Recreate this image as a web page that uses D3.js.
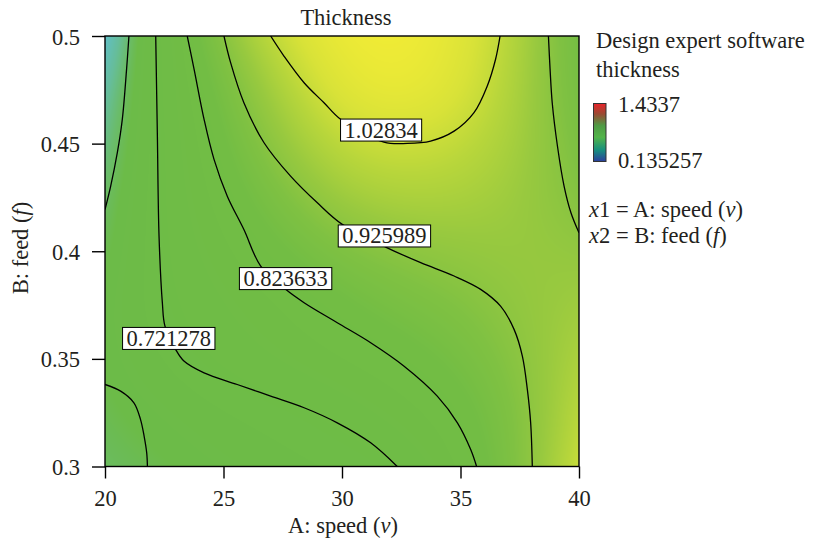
<!DOCTYPE html>
<html>
<head>
<meta charset="utf-8">
<script src="https://cdn.jsdelivr.net/npm/d3@7"></script>
<style>
  html, body { margin: 0; padding: 0; background: #fff; }
  svg text { font-family: "Liberation Serif", "Times New Roman", serif; fill: #231f20; }
</style>
</head>
<body>
<svg id="chart" width="819" height="545"></svg>
<script>
// ---------------- data ----------------
const chartTitle = "Thickness";
const xTicks = [20, 25, 30, 35, 40];
const yTicks = [0.3, 0.35, 0.4, 0.45, 0.5];
const yTickLabels = ["0.3", "0.35", "0.4", "0.45", "0.5"];
const legendMax = "1.4337";
const legendMin = "0.135257";
const contourLevels = [0.618923, 0.721278, 0.823633, 0.925989, 1.02834];

// contour lines, [speed, feed] pairs
const contour0619a = [[21.01,0.5],[20.91,0.4845],[20.73,0.4613],[20.52,0.4458],[20.24,0.4303],[20.0,0.4194]];
const contour0619b = [[20.0,0.3381],[20.66,0.3350],[21.22,0.3296],[21.50,0.3218],[21.65,0.3141],[21.76,0.3063],[21.79,0.3]];
const contour0721 = [[22.14,0.5],[22.21,0.4535],[22.28,0.4070],[22.42,0.3761],[22.53,0.3652],[22.98,0.3544],[23.33,0.3490],[24.18,0.3435],[25.58,0.3381],[26.99,0.3327],[28.40,0.3273],[29.80,0.3203],[31.21,0.3110],[32.33,0.3]];
const contour0824 = [[23.47,0.5],[23.76,0.4845],[24.18,0.4613],[24.60,0.4427],[25.16,0.4256],[25.86,0.4101],[26.57,0.3931],[27.62,0.3823],[28.40,0.3761],[29.80,0.3668],[31.21,0.3575],[32.62,0.3466],[34.02,0.3327],[34.87,0.3203],[35.43,0.3079],[35.68,0.3]];
const contour0926a = [[25.02,0.5],[25.30,0.4876],[25.86,0.4690],[26.71,0.4504],[27.83,0.4349],[28.96,0.4225],[30.01,0.4125],[31.91,0.4016],[33.32,0.3947],[34.73,0.3885],[35.85,0.3823],[36.69,0.3745],[37.26,0.3637],[37.61,0.3513],[37.82,0.3358],[37.96,0.3203],[38.03,0.3]];
const contour0926b = [[38.71,0.5],[38.78,0.4845],[38.87,0.4690],[39.09,0.4489],[39.37,0.4303],[39.66,0.4179],[40.0,0.4086]];
const contour1028 = [[26.99,0.5],[27.55,0.4907],[28.40,0.4783],[29.24,0.4690],[29.94,0.4613],[31.77,0.4507],[32.76,0.4501],[33.74,0.4512],[34.73,0.4558],[35.57,0.4644],[36.13,0.4768],[36.48,0.4892],[36.67,0.5]];

// contour labels: text and anchor in data units
const contourLabels = [
  {text: "1.02834",  x: 31.65, y: 0.4563},
  {text: "0.925989", x: 31.79, y: 0.4071},
  {text: "0.823633", x: 27.62, y: 0.3873},
  {text: "0.721278", x: 22.69, y: 0.3595}
];

// estimated thickness surface on a coarse grid (rows: feed top->bottom)
const gridX = [20, 22.5, 25, 27.5, 30, 32.5, 35, 37.5, 40];
const gridY = [0.5, 0.475, 0.45, 0.425, 0.4, 0.375, 0.35, 0.325, 0.3];
const gridValues = [
  [0.50, 0.75, 0.93, 1.03, 1.08, 1.09, 1.06, 0.99, 0.86],
  [0.55, 0.74, 0.88, 0.99, 1.06, 1.08, 1.05, 0.98, 0.87],
  [0.58, 0.73, 0.85, 0.95, 1.015, 1.03, 1.015, 0.97, 0.89],
  [0.61, 0.73, 0.82, 0.90, 0.965, 0.985, 0.98, 0.955, 0.91],
  [0.63, 0.725, 0.79, 0.85, 0.90, 0.925, 0.94, 0.95, 0.94],
  [0.65, 0.72, 0.76, 0.80, 0.845, 0.88, 0.905, 0.94, 0.96],
  [0.645, 0.70, 0.74, 0.77, 0.80, 0.83, 0.87, 0.925, 0.98],
  [0.63, 0.66, 0.69, 0.71, 0.74, 0.78, 0.83, 0.91, 1.0],
  [0.615, 0.635, 0.66, 0.68, 0.70, 0.725, 0.80, 0.91, 1.02]
];

// colour map for the fill
const colorStops  = [0.50, 0.56, 0.60, 0.64, 0.85, 0.90, 0.95, 1.00, 1.04, 1.09];
const colorValues = ["#60bfc8","#66bd9a","#6abc6c","#6cbb48","#72bd44","#7fc142","#98c93f","#b8d63b","#d8e238","#f2ec35"];

// ---------------- drawing ----------------
const svg = d3.select("#chart");
const FS = 22.5;
const x = d3.scaleLinear().domain([20, 40]).range([105, 579]);
const y = d3.scaleLinear().domain([0.3, 0.5]).range([466.5, 36]);
const color = d3.scaleLinear().domain(colorStops).range(colorValues).interpolate(d3.interpolateRgb).clamp(true);

svg.append("rect").attr("width", 819).attr("height", 545).attr("fill", "#fff");

// raster fill
const x0 = x.range()[0], x1 = x.range()[1], yTop = y.range()[1], yBot = y.range()[0];
const W = Math.round(x1 - x0), H = Math.round(yBot - yTop);
const canvas = document.createElement("canvas");
canvas.width = W; canvas.height = H;
const ctx = canvas.getContext("2d");
const img = ctx.createImageData(W, H);
const gx = d3.scaleLinear().domain(d3.extent(gridX)).range([0, 1]);
const gy = d3.scaleLinear().domain([gridY[0], gridY[gridY.length - 1]]).range([0, 1]);
const rowInterps = gridValues.map(r => d3.interpolateBasis(r));
for (let i = 0; i < W; i++) {
  const tx = gx(x.invert(x0 + i + 0.5));
  const colInterp = d3.interpolateBasis(rowInterps.map(f => f(tx)));
  for (let j = 0; j < H; j++) {
    const ty = gy(y.invert(yTop + j + 0.5));
    const c = d3.rgb(color(colInterp(ty)));
    const k = (j * W + i) * 4;
    img.data[k] = c.r; img.data[k + 1] = c.g; img.data[k + 2] = c.b; img.data[k + 3] = 255;
  }
}
ctx.putImageData(img, 0, 0);
svg.append("image")
  .attr("x", x0).attr("y", yTop).attr("width", x1 - x0).attr("height", yBot - yTop)
  .attr("preserveAspectRatio", "none")
  .attr("href", canvas.toDataURL());

// clip
svg.append("clipPath").attr("id", "plotClip").append("rect")
  .attr("x", x0).attr("y", yTop).attr("width", x1 - x0).attr("height", yBot - yTop);

// contour lines
const line = d3.line().x(d => x(d[0])).y(d => y(d[1])).curve(d3.curveCatmullRom.alpha(0.5));
const contourPaths = [contour0619a, contour0619b, contour0721, contour0824, contour0926a, contour0926b, contour1028];
svg.append("g").attr("clip-path", "url(#plotClip)")
  .selectAll("path").data(contourPaths).join("path")
  .attr("d", line).attr("fill", "none").attr("stroke", "#000").attr("stroke-width", 1.3);

// contour labels
const lg = svg.append("g").selectAll("g").data(contourLabels).join("g")
  .attr("transform", d => `translate(${x(d.x)},${y(d.y)})`);
lg.append("rect").attr("fill", "#fff").attr("stroke", "#000").attr("stroke-width", 1);
lg.append("text").attr("text-anchor", "middle").attr("y", 7.5).attr("font-size", FS).text(d => d.text);
lg.each(function() {
  const g = d3.select(this);
  const bb = g.select("text").node().getBBox();
  g.select("rect").attr("x", -bb.width / 2 - 4).attr("y", -11).attr("width", bb.width + 8).attr("height", 22);
});

// frame
svg.append("rect").attr("x", x0).attr("y", yTop).attr("width", x1 - x0).attr("height", yBot - yTop)
  .attr("fill", "none").attr("stroke", "#000").attr("stroke-width", 1.4);

// axes
const xAxis = svg.append("g").attr("transform", `translate(0,${yBot})`)
  .call(d3.axisBottom(x).tickValues(xTicks).tickFormat(d3.format("d")).tickSize(12).tickSizeOuter(0));
xAxis.select(".domain").remove();
xAxis.selectAll(".tick line").attr("stroke", "#000").attr("stroke-width", 1.4);
xAxis.selectAll(".tick text").attr("font-family", null).attr("font-size", FS).attr("dy", null).attr("y", 39.5).attr("fill", "#231f20");

const yAxis = svg.append("g").attr("transform", `translate(${x0},0)`)
  .call(d3.axisLeft(y).tickValues(yTicks).tickFormat((d, i) => yTickLabels[i]).tickSize(13).tickPadding(12).tickSizeOuter(0));
yAxis.select(".domain").remove();
yAxis.selectAll(".tick line").attr("stroke", "#000").attr("stroke-width", 1.4);
yAxis.selectAll(".tick text").attr("font-family", null).attr("font-size", FS).attr("dy", null).attr("y", 8).attr("fill", "#231f20");

// title
svg.append("text").attr("x", 346).attr("y", 25).attr("text-anchor", "middle").attr("font-size", FS).text(chartTitle);

// axis titles
const xt = svg.append("text").attr("x", 343).attr("y", 533).attr("text-anchor", "middle").attr("font-size", FS);
xt.append("tspan").text("A: speed (");
xt.append("tspan").attr("font-style", "italic").text("v");
xt.append("tspan").text(")");

const yt = svg.append("text").attr("transform", "translate(28,248) rotate(-90)").attr("text-anchor", "middle").attr("font-size", FS);
yt.append("tspan").text("B: feed (");
yt.append("tspan").attr("font-style", "italic").text("f");
yt.append("tspan").text(")");

// legend
svg.append("text").attr("x", 596).attr("y", 48).attr("font-size", FS).text("Design expert software");
svg.append("text").attr("x", 596).attr("y", 77).attr("font-size", FS).text("thickness");
const grad = svg.append("defs").append("linearGradient").attr("id", "lgGrad")
  .attr("x1", 0).attr("y1", 0).attr("x2", 0).attr("y2", 1);
[["0%", "#e8242a"], ["18%", "#9a4a32"], ["38%", "#4f9a44"], ["58%", "#52b449"], ["80%", "#17907e"], ["100%", "#2b3f9e"]]
  .forEach(s => grad.append("stop").attr("offset", s[0]).attr("stop-color", s[1]));
svg.append("rect").attr("x", 593.5).attr("y", 103.5).attr("width", 12.5).attr("height", 58)
  .attr("fill", "url(#lgGrad)").attr("stroke", "#333").attr("stroke-width", 1);
svg.append("text").attr("x", 618).attr("y", 112).attr("font-size", FS).text(legendMax);
svg.append("text").attr("x", 618).attr("y", 168).attr("font-size", FS).text(legendMin);

const l1 = svg.append("text").attr("x", 589).attr("y", 217).attr("font-size", FS);
l1.append("tspan").attr("font-style", "italic").text("x");
l1.append("tspan").text("1 = A: speed (");
l1.append("tspan").attr("font-style", "italic").text("v");
l1.append("tspan").text(")");
const l2 = svg.append("text").attr("x", 589).attr("y", 243).attr("font-size", FS);
l2.append("tspan").attr("font-style", "italic").text("x");
l2.append("tspan").text("2 = B: feed (");
l2.append("tspan").attr("font-style", "italic").text("f");
l2.append("tspan").text(")");
</script>
</body>
</html>
